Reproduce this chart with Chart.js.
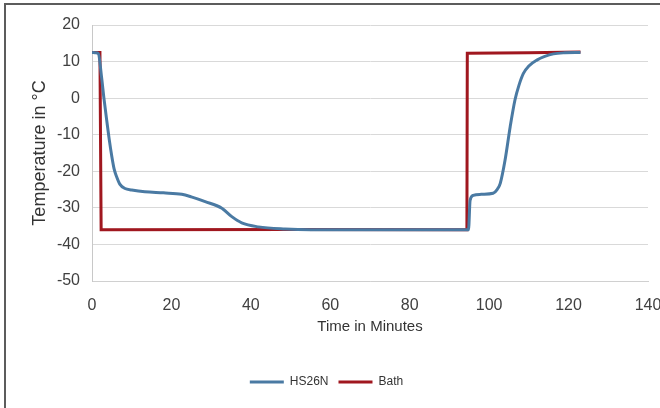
<!DOCTYPE html>
<html>
<head>
<meta charset="utf-8">
<script src="https://cdn.jsdelivr.net/npm/chart.js@4.4.1/dist/chart.umd.min.js"></script>
<style>
  html, body { margin: 0; padding: 0; background: #fff; }
  #caixa { position: relative; width: 660px; height: 408px; overflow: hidden; }
  #moldura { position: absolute; left: 4px; top: 3px; width: 670px; height: 420px;
             border-top: 2px solid #5c5c5c; border-left: 2px solid #5c5c5c; pointer-events: none; }
</style>
</head>
<body>
<div id="caixa">
  <canvas id="grafico-temp" width="660" height="408"></canvas>
  <div id="moldura"></div>
</div>
<script>
// tempos (minutos) e temperaturas
const tempoSensor = [0, 1, 1.6, 2.4, 3, 3.7, 4.3, 5, 5.6, 6.2, 7, 8.3, 10, 13.3, 18, 22.6, 25, 28.5, 32.7, 35.2, 37.7, 41.9, 48.6, 55, 70, 85, 94.8,
  95.2, 96, 98, 101, 102, 102.8, 104, 105.3, 106.5, 107.5, 108.6, 110, 112, 114, 116.2, 119, 123];
const tempSensor = [12.5, 12.4, 12.2, 5.8, 0, -6, -11, -16, -19.5, -21.5, -23.5, -24.7, -25.1, -25.6, -25.9, -26.3, -27, -28.3, -30.1, -32.4, -34.1, -35.2, -35.8, -36, -36, -36, -36,
  -28, -26.6, -26.3, -26, -25, -23.3, -17, -7.8, -0.5, 3.5, 6.7, 8.8, 10.4, 11.4, 12.1, 12.4, 12.5];

const tempoBanho = [0, 2, 2.3, 50, 94.4, 94.5, 110, 123];
const tempBanho = [12.5, 12.5, -36, -35.9, -36, 12.3, 12.4, 12.6];

const nomesSeries = ['HS26N', 'Bath'];

function pares(xs, ys) {
  return xs.map((x, i) => ({ x: x, y: ys[i] }));
}

const fonte = "'Liberation Sans', Arial, sans-serif";

const ctx = document.getElementById('grafico-temp').getContext('2d');
window.meuGrafico = new Chart(ctx, {
  type: 'scatter',
  data: {
    datasets: [{
      label: nomesSeries[0],
      data: pares(tempoSensor, tempSensor),
      showLine: true,
      borderColor: '#4a7aa3',
      backgroundColor: '#4a7aa3',
      borderWidth: 3,
      pointRadius: 0,
      cubicInterpolationMode: 'monotone'
    }, {
      label: nomesSeries[1],
      data: pares(tempoBanho, tempBanho),
      showLine: true,
      borderColor: '#a0171f',
      backgroundColor: '#a0171f',
      borderWidth: 3,
      pointRadius: 0,
      tension: 0
    }]
  },
  options: {
    responsive: false,
    animation: false,
    layout: { padding: { left: 5, top: 25, right: 12, bottom: 10 } },
    scales: {
      x: {
        type: 'linear',
        min: 0, max: 140,
        ticks: { stepSize: 20, color: '#404040', font: { family: fonte, size: 16 }, padding: 15 },
        grid: { display: false, drawTicks: false },
        border: { display: true, color: '#d0d0d0' },
        title: { display: true, text: 'Time in Minutes', color: '#333', font: { family: fonte, size: 15 }, padding: { top: 4, bottom: 30 } },
        afterFit: (escala) => { escala.height = 85; escala.paddingRight = 0; }
      },
      y: {
        min: -50, max: 20,
        ticks: { stepSize: 10, color: '#404040', font: { family: fonte, size: 16 }, padding: 12 },
        grid: { color: '#d9d9d9', drawTicks: false },
        border: { display: true, color: '#c8c8c8' },
        title: { display: true, text: 'Temperature in °C', color: '#333', font: { family: fonte, size: 18 }, padding: { top: 24, bottom: 0 } },
        afterFit: (escala) => { escala.width = 87; }
      }
    },
    plugins: {
      legend: {
        position: 'bottom',
        labels: {
          usePointStyle: true,
          pointStyle: 'line',
          pointStyleWidth: 34,
          color: '#333',
          font: { family: fonte, size: 12 },
          padding: 10
        }
      },
      tooltip: { enabled: false }
    }
  }
});
</script>
</body>
</html>
